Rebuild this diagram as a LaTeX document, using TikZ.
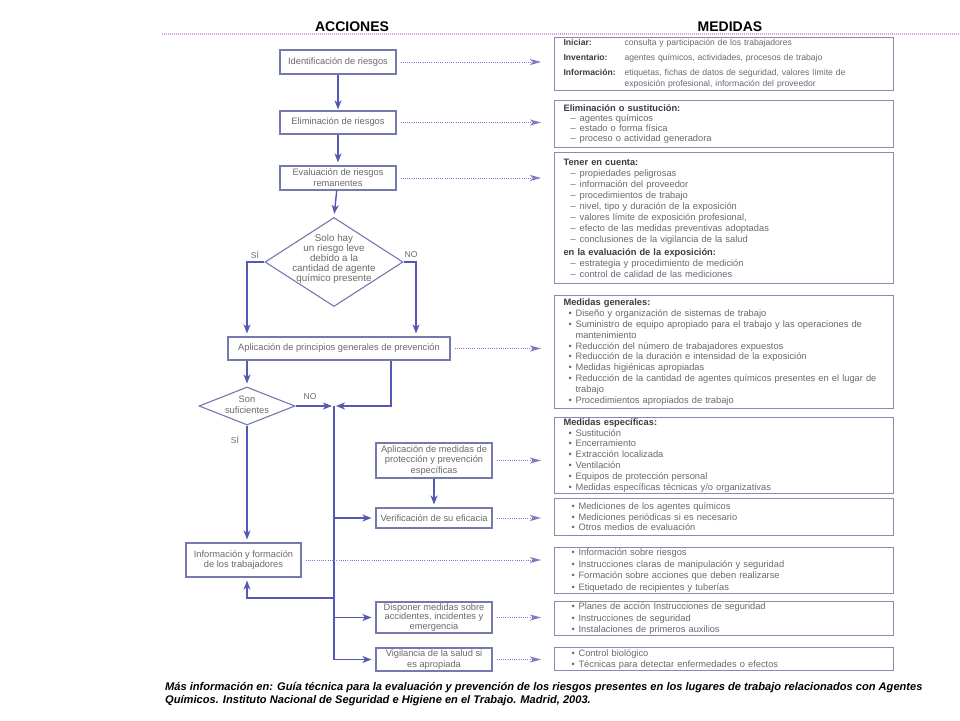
\documentclass[tikz,border=0pt]{standalone}
\usepackage{fontspec}
\setmainfont{Liberation Sans}
\usetikzlibrary{shapes.geometric,arrows.meta,calc}
\definecolor{lboxc}{HTML}{7479AE}
\definecolor{arrc}{HTML}{5659B4}
\definecolor{dotc}{HTML}{8377C9}
\definecolor{rboxc}{HTML}{8E89AC}
\definecolor{txtc}{HTML}{6A6A6A}
\definecolor{headc}{HTML}{3C3C3C}
\definecolor{pinkc}{HTML}{CDA5DA}
\newcommand\zzhead[1]{{\bfseries\color{headc}#1}}
\newcommand\zzlab[1]{\makebox[61pt][l]{\zzhead{#1}}}
\newcommand\zzdash[1]{\hspace*{7pt}–\hspace{4pt}#1}
\newcommand\zzbul[1]{\hspace*{5pt}\makebox[7pt][l]{\textbullet}#1}
\newcommand\zzcont[1]{\hspace*{12pt}#1}
\newcommand\zzbulv[1]{\hspace*{8pt}\makebox[7pt][l]{\textbullet}#1}
\begin{document}
\begin{tikzpicture}[x=1pt,y=-1pt,
  lb/.style={draw=lboxc, line width=1.1pt, fill=white, text=txtc, font=\fontsize{9.3}{10}\selectfont, align=center, inner sep=1pt},
  dia/.style={diamond, draw=lboxc, line width=1.1pt, inner sep=0pt},
  dtext/.style={text=txtc, font=\fontsize{9.8}{10}\selectfont, align=center, inner sep=0pt},
  rb/.style={draw=rboxc, line width=1.1pt, anchor=north west, minimum width=339pt, text width=321pt, inner xsep=9pt, inner ysep=1pt, align=left, text=txtc, font=\fontsize{9.3}{11}\selectfont},
  flow/.style={draw=arrc, line width=1.4pt, -{Stealth[length=9pt,width=7pt,inset=2.5pt]}, shorten >=3pt},
  dotarrow/.style={draw=dotc, line width=1pt, dash pattern=on 1pt off 1.2pt, -{Stealth[length=11pt,width=6pt,inset=3pt]}, shorten <=4pt, shorten >=13pt},
  lab/.style={text=txtc, font=\fontsize{8.5}{10}\selectfont, inner sep=0pt},
  hdr/.style={font=\fontsize{14}{16}\selectfont\bfseries, anchor=base, inner sep=0pt},
  foot/.style={font=\fontsize{11.1}{13}\selectfont\bfseries\itshape, anchor=base west, inner sep=0pt}
]
\fill[white] (0,0) rectangle (960,720);
\useasboundingbox (0,0) rectangle (960,720);

% header
\node[hdr] (hacc) at (352,31) {ACCIONES};
\node[hdr] (hmed) at (730,31) {MEDIDAS};
\coordinate (hl) at (162,34);
\coordinate (hr) at (960,34);
\draw[pinkc, line width=2pt, dash pattern=on 1pt off 1pt] (hl) -- (hr);

% left column
\node[lb, minimum width=116pt, minimum height=24pt] (ident) at (338,62) {Identificación de riesgos};
\node[lb, minimum width=116pt, minimum height=23pt] (elim) at (338,122.5) {Eliminación de riesgos};
\node[lb, minimum width=116pt, minimum height=24pt, font=\fontsize{9.3}{10.8}\selectfont] (eval) at (338,178) {Evaluación de riesgos\\remanentes};
\node[dia, minimum width=138pt, minimum height=89pt] (d1) at (334,262) {};
\node[dtext] (d1t) at (334,259) {Solo hay\\un riesgo leve\\debido a la\\cantidad de agente\\químico presente};
\node[lb, minimum width=222pt, minimum height=23pt] (princ) at (339,348.5) {Aplicación de principios generales de prevención};
\node[dia, minimum width=96pt, minimum height=38pt] (d2) at (247,406) {};
\node[dtext, font=\fontsize{9.3}{10.5}\selectfont] (d2t) at (247,405) {Son\\suficientes};
\node[lb, minimum width=116pt, minimum height=35pt, font=\fontsize{9.3}{10.8}\selectfont] (medesp) at (434,460.5) {Aplicación de medidas de\\protección y prevención\\específicas};
\node[lb, minimum width=116pt, minimum height=20pt] (verif) at (434,518) {Verificación de su eficacia};
\node[lb, minimum width=115pt, minimum height=34pt] (info) at (243.5,560) {Información y formación\\de los trabajadores};
\node[lb, minimum width=116pt, minimum height=31pt, font=\fontsize{9.3}{9.6}\selectfont] (dispo) at (434,617.5) {Disponer medidas sobre\\accidentes, incidentes y\\emergencia};
\node[lb, minimum width=116pt, minimum height=23pt, font=\fontsize{9.3}{10.5}\selectfont] (vig) at (434,659.5) {Vigilancia de la salud si\\es apropiada};

% labels
\node[lab] (si1) at (255,255) {SÍ};
\node[lab] (no1) at (411,255) {NO};
\node[lab] (no2) at (310,397) {NO};
\node[lab] (si2) at (235,440) {SÍ};

% right column
\node[rb, minimum height=53pt, font=\fontsize{8.6}{11}\selectfont] (r1) at (554,37) {\zzlab{Iniciar:}consulta y participación de los trabajadores\\[4pt]
\zzlab{Inventario:}agentes químicos, actividades, procesos de trabajo\\[4pt]
\zzlab{Información:}etiquetas, fichas de datos de seguridad, valores límite de\\
\hspace*{61pt}exposición profesional, información del proveedor};
\node[rb, minimum height=47pt, font=\fontsize{9.3}{10}\selectfont] (r2) at (554,100) {\zzhead{Eliminación o sustitución:}\\
\zzdash{agentes químicos}\\
\zzdash{estado o forma física}\\
\zzdash{proceso o actividad generadora}};
\node[rb, minimum height=131pt] (r3) at (554,152) {\zzhead{Tener en cuenta:}\\
\zzdash{propiedades peligrosas}\\
\zzdash{información del proveedor}\\
\zzdash{procedimientos de trabajo}\\
\zzdash{nivel, tipo y duración de la exposición}\\
\zzdash{valores límite de exposición profesional,}\\
\zzdash{efecto de las medidas preventivas adoptadas}\\
\zzdash{conclusiones de la vigilancia de la salud}\\[2pt]
\zzhead{en la evaluación de la exposición:}\\
\zzdash{estrategia y procedimiento de medición}\\
\zzdash{control de calidad de las mediciones}};
\node[rb, minimum height=113pt, font=\fontsize{9.3}{10.9}\selectfont] (r4) at (554,295) {\zzhead{Medidas generales:}\\
\zzbul{Diseño y organización de sistemas de trabajo}\\
\zzbul{Suministro de equipo apropiado para el trabajo y las operaciones de}\\
\zzcont{mantenimiento}\\
\zzbul{Reducción del número de trabajadores expuestos}\\
\zzbul{Reducción de la duración e intensidad de la exposición}\\
\zzbul{Medidas higiénicas apropiadas}\\
\zzbul{Reducción de la cantidad de agentes químicos presentes en el lugar de}\\
\zzcont{trabajo}\\
\zzbul{Procedimientos apropiados de trabajo}};
\node[rb, minimum height=75pt, font=\fontsize{9.3}{10.8}\selectfont] (r5) at (554,417) {\zzhead{Medidas específicas:}\\
\zzbul{Sustitución}\\
\zzbul{Encerramiento}\\
\zzbul{Extracción localizada}\\
\zzbul{Ventilación}\\
\zzbul{Equipos de protección personal}\\
\zzbul{Medidas específicas técnicas y/o organizativas}};
\node[rb, minimum height=37pt, font=\fontsize{9.3}{10.5}\selectfont] (r6) at (554,498) {\zzbulv{Mediciones de los agentes químicos}\\
\zzbulv{Mediciones periódicas si es necesario}\\
\zzbulv{Otros medios de evaluación}};
\node[rb, minimum height=46pt, font=\fontsize{9.3}{11.5}\selectfont] (r7) at (554,547) {\zzbulv{Información sobre riesgos}\\
\zzbulv{Instrucciones claras de manipulación y seguridad}\\
\zzbulv{Formación sobre acciones que deben realizarse}\\
\zzbulv{Etiquetado de recipientes y tuberías}};
\node[rb, minimum height=34pt, font=\fontsize{9.3}{11.3}\selectfont] (r8) at (554,601) {\zzbulv{Planes de acción Instrucciones de seguridad}\\
\zzbulv{Instrucciones de seguridad}\\
\zzbulv{Instalaciones de primeros auxilios}};
\node[rb, minimum height=23pt, font=\fontsize{9.3}{11}\selectfont] (r9) at (554,647) {\zzbulv{Control biológico}\\
\zzbulv{Técnicas para detectar enfermedades o efectos}};

% helper coordinates
\coordinate (lx) at (247,0);
\coordinate (rx) at (416,0);
\coordinate (px) at (391,0);
\coordinate (mx) at (334,0);
\coordinate (m0) at (d2.east -| mx);
\coordinate (mi) at (334,598);

% solid flow
\draw[flow, shorten >=1pt] (ident) -- (elim);
\draw[flow] (elim) -- (eval);
\draw[flow] (eval) -- (d1.north);
\draw[flow] (d1.west) -- (d1.west -| lx) -- (princ.north -| lx);
\draw[flow] (d1.east) -- (d1.east -| rx) -- (princ.north -| rx);
\draw[flow] (princ.south -| lx) -- (d2.north);
\draw[flow] (d2.south) -- (info.north -| lx);
\draw[flow, shorten >=2pt] (d2.east) -- (m0);
\draw[flow, shorten >=2pt] (princ.south -| px) |- (m0);
\draw[flow, shorten >=4pt] (m0) |- (vig.west);
\draw[flow, shorten >=4pt] (m0 |- verif.west) -- (verif.west);
\draw[flow, shorten >=4pt] (m0 |- dispo.west) -- (dispo.west);
\draw[flow] (mi) -| (info.south -| lx);
\draw[flow] (medesp) -- (verif);

% dotted connectors
\draw[dotarrow] (ident.east) -- (ident.east -| r1.west);
\draw[dotarrow] (elim.east) -- (elim.east -| r2.west);
\draw[dotarrow] (eval.east) -- (eval.east -| r3.west);
\draw[dotarrow] (princ.east) -- (princ.east -| r4.west);
\draw[dotarrow] (medesp.east) -- (medesp.east -| r5.west);
\draw[dotarrow] (verif.east) -- (verif.east -| r6.west);
\draw[dotarrow] (info.east) -- (info.east -| r7.west);
\draw[dotarrow] (dispo.east) -- (dispo.east -| r8.west);
\draw[dotarrow] (vig.east) -- (vig.east -| r9.west);

% footer
\node[foot] (f1) at (165,690) {Más información en: Guía técnica para la evaluación y prevención de los riesgos presentes en los lugares de trabajo relacionados con Agentes};
\node[foot] (f2) at (165,703) {Químicos. Instituto Nacional de Seguridad e Higiene en el Trabajo. Madrid, 2003.};
\end{tikzpicture}
\end{document}
